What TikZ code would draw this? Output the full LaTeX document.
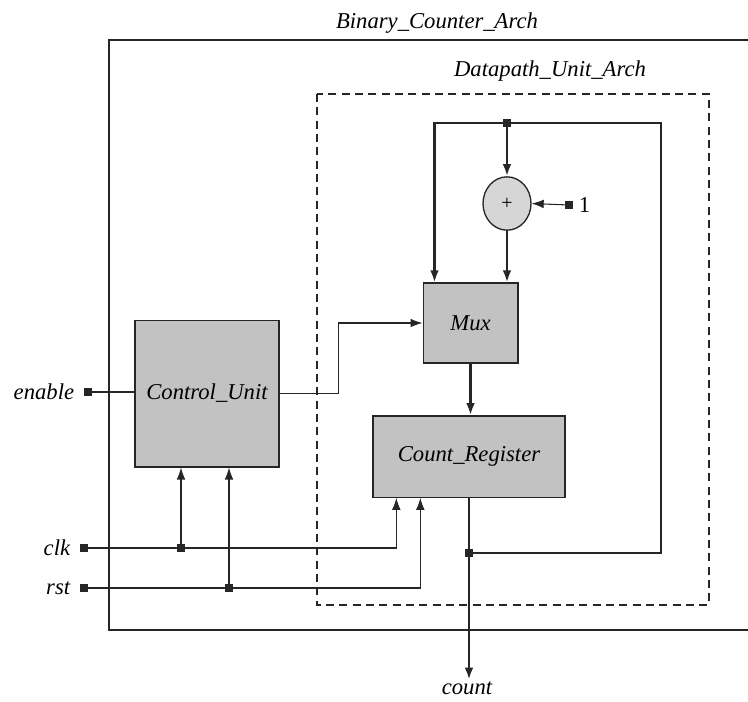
\documentclass[tikz,border=0pt]{standalone}
\usepackage{fontspec}
\setmainfont{Liberation Serif}
\usetikzlibrary{arrows.meta, positioning, calc, shapes.geometric}
\definecolor{inkdark}{HTML}{262626}
\definecolor{blockfill}{HTML}{C2C2C2}
\definecolor{addfill}{HTML}{D6D6D6}

\begin{document}
\begin{tikzpicture}[x=0.75pt, y=-0.75pt,
    font=\fontsize{17}{20}\selectfont\itshape,
    block/.style={draw=inkdark, line width=1pt, fill=blockfill, inner sep=0pt},
    port/.style={fill=inkdark, minimum size=6pt, inner sep=0pt},
    tap/.style={fill=inkdark, minimum size=5.5pt, inner sep=0pt},
    sig/.style={draw=inkdark, line width=0.8pt},
    bus/.style={draw=inkdark, line width=1.7pt},
    tip/.style={-{Latex[length=9pt, width=6.5pt]}},
    lbl/.style={inner sep=1pt}]
  \useasboundingbox (0,0) rectangle (748,701);
  % enclosing architectures
  \draw[inkdark, line width=0.9pt] (748,40) -- (109,40) -- (109,630) -- (748,630);
  \node (bcarch) at (437,23) {Binary\_Counter\_Arch};
  \draw[inkdark, line width=0.8pt, dash pattern=on 6pt off 4pt]
    (317,94) rectangle (709,605);
  \node (dparch) at (550,71) {Datapath\_Unit\_Arch};
  % blocks
  \node[block, minimum width=108pt, minimum height=110pt] (ctrl) at (207,393.5) {Control\_Unit};
  \node[block, minimum width=71pt, minimum height=60pt] (mux) at (470.5,323) {Mux};
  \node[block, minimum width=144pt, minimum height=61pt] (creg) at (469,456.5) {Count\_Register};
  \node[ellipse, draw=inkdark, line width=1pt, fill=addfill, minimum width=36pt,
        minimum height=40pt, inner sep=0pt, text=black,
        font=\normalfont\fontsize{15}{16}\selectfont] (adder) at (507,203.5) {+};
  % ports
  \node[port] (en) at (88,392) {};
  \node[lbl, left=6pt of en] (enlbl) {enable};
  \node[port] (clk) at (84,548) {};
  \node[lbl, left=6pt of clk] (clklbl) {clk};
  \node[port] (rst) at (84,588) {};
  \node[lbl, left=6pt of rst] (rstlbl) {rst};
  \node[port] (one) at (569,205) {};
  \node[lbl, right=3pt of one, font=\normalfont\fontsize{17}{20}\selectfont] (onelbl) {1};
  \node[lbl, anchor=base] (countlbl) at (467,694) {count};
  % taps
  \node[tap] (jclk) at (181,548) {};
  \node[tap] (jrst) at (229,588) {};
  \node[tap] (jtop) at (507,123) {};
  \node[tap] (jout) at (469,553) {};
  \coordinate (cregclk) at ($(creg.south west)+(24,0)$);
  \coordinate (cregrst) at ($(creg.south west)+(48,0)$);
  \coordinate (muxfb) at ($(mux.north west)+(12,0)$);
  % control signals
  \draw[sig] (en) -- (ctrl.west |- en);
  \draw[sig] (clk) -- (jclk);
  \draw[sig, tip] (jclk) -- (jclk |- ctrl.south);
  \draw[sig, tip] (jclk) -| (cregclk);
  \draw[sig] (rst) -- (jrst);
  \draw[sig, tip] (jrst) -- (jrst |- ctrl.south);
  \draw[sig, tip] (jrst) -| (cregrst);
  \draw[sig, tip] (ctrl.east) -- ++(59,0) |- (mux.west);
  % datapath
  \draw[bus, tip] (mux.south) -- (mux.south |- creg.north);
  \draw[bus, tip] (creg.south) -- (creg.south |- countlbl.north);
  \draw[bus] (jout) -- ++(192,0) |- (jtop);
  \draw[bus, tip] (jtop) -| (muxfb);
  \draw[bus, tip] (jtop) -- (adder.north);
  \draw[bus, tip] (adder.south) -- (adder.south |- mux.north);
  \draw[sig, tip] (one) -- (adder.east);
\end{tikzpicture}
\end{document}
